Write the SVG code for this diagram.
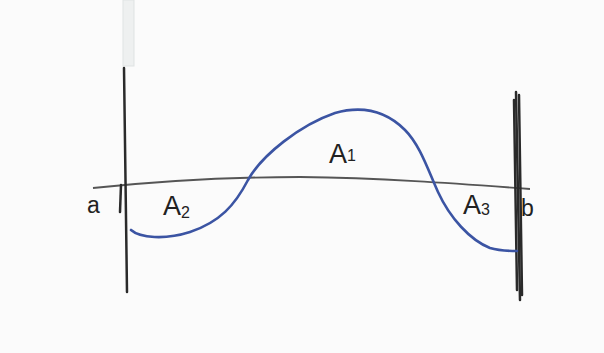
<svg xmlns="http://www.w3.org/2000/svg" width="604" height="353" viewBox="0 0 604 353">
<style>
.t{font-family:"Liberation Sans",Arial,sans-serif;font-size:27px;fill:#222}
.a{font-size:23px}
.s{font-size:16px}
.v{stroke:#2a2a2a;stroke-width:2.5;fill:none;stroke-linecap:round}
.ax{stroke:#555;stroke-width:1.8;fill:none}
.cv{stroke:#3b54a3;stroke-width:2.6;fill:none;stroke-linecap:round}
</style>
<rect width="604" height="353" fill="#fbfbfb"/>
<rect x="123" y="0" width="11" height="66" fill="#eef0f0" stroke="#dfe3e3" stroke-width="1"/>
<g id="axis">
<path class="ax" d="M93,188 C150,182 220,177 300,177 C380,178 450,183 530,189"/>
</g>
<g id="left-bound">
<path class="v" d="M124,68 L127,292"/>
<path class="v" d="M121,185 L120,212" stroke-width="1.5"/>
</g>
<g id="right-bound">
<path class="v" d="M516,92 L520,300"/>
<path class="v" d="M514,100 L517,290" stroke-width="0.9"/>
<path class="v" d="M519,95 L522,295" stroke-width="0.9"/>
</g>
<g id="curve">
<path class="cv" d="M131,230 C140,238 165,240 190,232 C220,222 235,205 248,180 C262,155 300,125 335,113 C360,106 385,110 405,130 C420,145 428,170 438,192 C450,218 470,240 490,248 C500,251 510,251 517,251"/>
</g>
<g id="labels">
<text class="t a" x="87" y="213">a</text>
<text class="t" x="163" y="215">A<tspan class="s" dy="3">2</tspan></text>
<text class="t" x="329" y="163">A<tspan class="s" dy="-2">1</tspan></text>
<text class="t" x="463" y="214">A<tspan class="s" dy="1">3</tspan></text>
<text class="t a" x="521" y="216">b</text>
</g>
</svg>
